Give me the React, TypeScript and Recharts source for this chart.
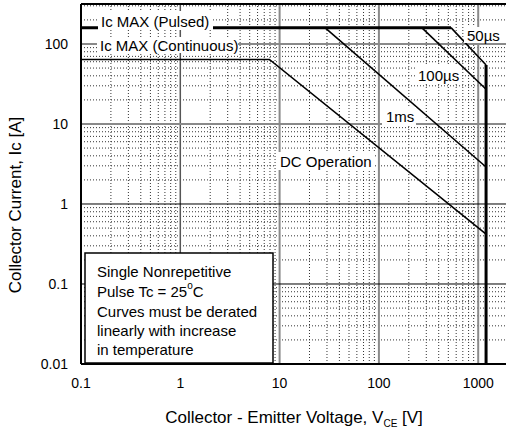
import { LineChart, Line, XAxis, YAxis, ReferenceLine } from "recharts";

// axis ticks (log decades)
const xTicks = [0.1, 1, 10, 100, 1000];
const yTicks = [0.01, 0.1, 1, 10, 100];
const minorSteps = [2, 3, 4, 5, 6, 7, 8, 9];
const xDomain = [0.1, 1905];
const yDomain = [0.01, 316];

// SOA boundaries
const pulsedV = [0.1, 532];
const pulsedI = [160, 160];
const us50V = [532, 1200];
const us50I = [160, 54.6];
const vLimitV = [1200, 1200];
const vLimitI = [54.6, 0.01];
const us100V = [270, 1200];
const us100I = [160, 27.2];
const ms1V = [28.6, 1200];
const ms1I = [160, 2.9];
const dcV = [0.1, 7.9, 1200];
const dcI = [64, 64, 0.42];

const zip = (v: number[], i: number[]) => v.map((x, k) => ({ v: x, i: i[k] }));

const xMinor = xTicks.flatMap((d) => minorSteps.map((m) => d * m)).filter((x) => x < xDomain[1]);
const yMinor = yTicks.flatMap((d) => minorSteps.map((m) => d * m)).filter((y) => y < yDomain[1]);

const FONT = "'Liberation Sans', Arial, sans-serif";

export default function App() {
  const thin = { stroke: "#000", strokeWidth: 1.6, dot: false, isAnimationActive: false, type: "linear" as const };
  const thick = { ...thin, strokeWidth: 3 };
  const gray = "#8a8a8a";
  const dotted = { stroke: "#333", strokeWidth: 1, strokeDasharray: "1 2" };

  return (
    <div style={{ position: "absolute", left: 0, top: 0, width: 506, height: 434, background: "#fff", fontFamily: FONT }}>
      <LineChart width={506} height={434} margin={{ top: 4, right: 0, bottom: 0, left: 0 }}>
        <XAxis
          dataKey="v"
          type="number"
          scale="log"
          domain={xDomain}
          ticks={xTicks}
          allowDataOverflow
          height={70}
          tickSize={0}
          tickMargin={14}
          tickLine={false}
          axisLine={{ stroke: "#000", strokeWidth: 2 }}
          tick={{ fill: "#000", fontSize: 14, fontFamily: FONT }}
        />
        <YAxis
          type="number"
          scale="log"
          domain={yDomain}
          ticks={yTicks}
          allowDataOverflow
          width={81}
          tickSize={0}
          tickMargin={13}
          tickLine={false}
          axisLine={{ stroke: "#000", strokeWidth: 2 }}
          tick={{ fill: "#000", fontSize: 14, fontFamily: FONT }}
        />
        {xMinor.map((x) => (
          <ReferenceLine key={`vx${x}`} x={x} {...dotted} />
        ))}
        {yMinor.map((y) => (
          <ReferenceLine key={`hy${y}`} y={y} {...dotted} />
        ))}
        <ReferenceLine x={1} stroke="#555" strokeWidth={1.5} />
        <ReferenceLine x={10} stroke={gray} strokeWidth={2} />
        <ReferenceLine x={100} stroke={gray} strokeWidth={2} />
        <ReferenceLine x={1000} stroke={gray} strokeWidth={2} />
        <ReferenceLine y={100} stroke={gray} strokeWidth={2} />
        <ReferenceLine y={10} stroke={gray} strokeWidth={2} />
        <ReferenceLine y={1} stroke="#000" strokeWidth={1} />
        <ReferenceLine y={0.1} stroke="#000" strokeWidth={1} />
        <ReferenceLine y={yDomain[1]} stroke="#000" strokeWidth={2} />

        <Line data={zip(dcV, dcI)} dataKey="i" {...thin} />
        <Line data={zip(ms1V, ms1I)} dataKey="i" {...thin} />
        <Line data={zip(us100V, us100I)} dataKey="i" {...thin} />
        <Line data={zip(us50V, us50I)} dataKey="i" {...thin} />
        <Line data={zip(pulsedV, pulsedI)} dataKey="i" {...thick} />
        <Line data={zip(vLimitV, vLimitI)} dataKey="i" {...thick} />
      </LineChart>

      <svg
        width={506}
        height={434}
        style={{ position: "absolute", left: 0, top: 0, pointerEvents: "none" }}
        fontFamily={FONT}
      >
        <g fontSize={15} fill="#000" dominantBaseline="central">
          <rect x={98} y={11} width={115} height={19} fill="#fff" />
          <text x={101} y={21}>Ic MAX (Pulsed)</text>
          <rect x={97} y={37} width={141} height={16} fill="#fff" />
          <text x={100} y={45}>Ic MAX (Continuous)</text>
          <rect x={464} y={27} width={36} height={16} fill="#fff" />
          <text x={467} y={35}>50µs</text>
          <rect x={416} y={66} width={45} height={17} fill="#fff" />
          <text x={418} y={75}>100µs</text>
          <rect x={382} y={107} width={34} height={18} fill="#fff" />
          <text x={386} y={116}>1ms</text>
          <rect x={276} y={152} width={99} height={18} fill="#fff" />
          <text x={280} y={161}>DC Operation</text>
        </g>

        <rect x={85} y={253} width={188} height={110} fill="#fff" stroke="#000" strokeWidth={1.5} />
        <g fontSize={15} fill="#000" dominantBaseline="central">
          <text x={97} y={271}>Single Nonrepetitive</text>
          <text x={97} y={291}>
            Pulse Tc = 25<tspan fontSize={10} dy={-6}>o</tspan>
            <tspan dy={6}>C</tspan>
          </text>
          <text x={97} y={311}>Curves must be derated</text>
          <text x={97} y={330}>linearly with increase</text>
          <text x={97} y={349}>in temperature</text>
        </g>

        <text x={294} y={423} fontSize={17} textAnchor="middle" fill="#000">
          Collector - Emitter Voltage, V<tspan fontSize={10} dy={4}>CE</tspan>
          <tspan dy={-4}> [V]</tspan>
        </text>
        <text
          x={21}
          y={205}
          fontSize={17}
          textAnchor="middle"
          fill="#000"
          transform="rotate(-90 21 205)"
        >
          Collector Current, Ic [A]
        </text>
      </svg>
    </div>
  );
}
